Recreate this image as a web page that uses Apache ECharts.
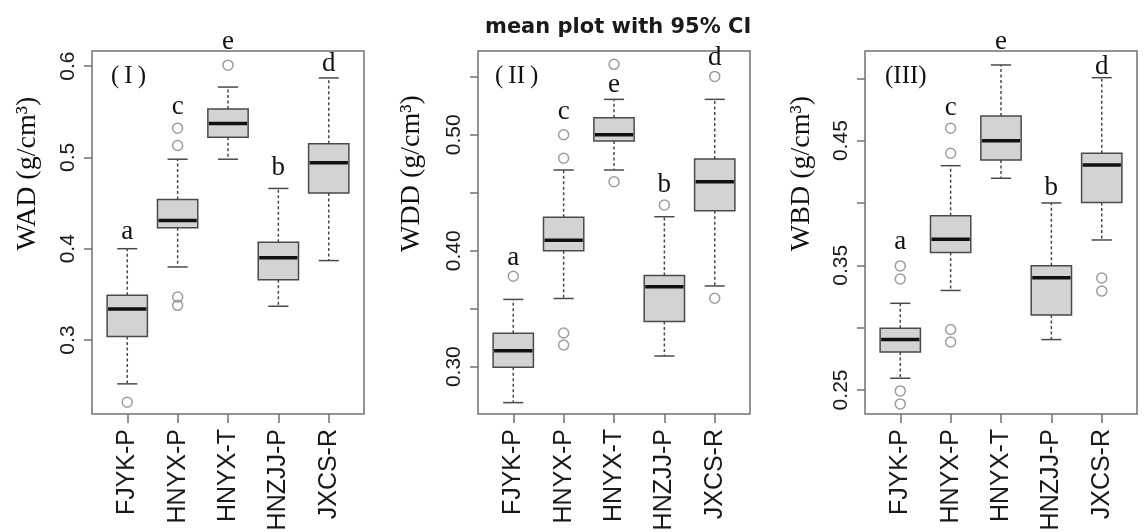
<!DOCTYPE html>
<html><head><meta charset="utf-8">
<script src="https://cdn.jsdelivr.net/npm/echarts@6/dist/echarts.min.js"></script>
<style>html,body{margin:0;padding:0;background:#fff}#c{width:1144px;height:532px}</style>
</head><body><div id="c"></div>
<script>
const categories = ['FJYK-P', 'HNYX-P', 'HNYX-T', 'HNZJJ-P', 'JXCS-R'];

// box stats per category: [lower whisker, Q1, median, Q3, upper whisker]
const wadBoxes = [
  [0.252, 0.304, 0.334, 0.349, 0.400],
  [0.380, 0.423, 0.431, 0.454, 0.498],
  [0.498, 0.522, 0.537, 0.553, 0.577],
  [0.337, 0.366, 0.390, 0.407, 0.466],
  [0.387, 0.461, 0.494, 0.515, 0.587]
];
const wadOutliers = [[0, 0.232], [1, 0.513], [1, 0.532], [1, 0.347], [1, 0.338], [2, 0.601]];
const wadLetters = ['a', 'c', 'e', 'b', 'd'];
const wadLetterY = [0.4095, 0.5464, 0.6175, 0.4789, 0.5928];
const wadTicks = [0.3, 0.4, 0.5, 0.6];
const wadTickLabels = [0.3, 0.4, 0.5, 0.6];

const wddBoxes = [
  [0.269, 0.2995, 0.3138, 0.3288, 0.358],
  [0.3588, 0.400, 0.409, 0.4288, 0.4696],
  [0.4696, 0.4946, 0.500, 0.5147, 0.5305],
  [0.3092, 0.339, 0.369, 0.3787, 0.4293],
  [0.3696, 0.4345, 0.4595, 0.479, 0.5305]
];
const wddOutliers = [[0, 0.378], [1, 0.500], [1, 0.4797], [1, 0.329], [1, 0.3187],
  [2, 0.5607], [2, 0.4595], [3, 0.4394], [4, 0.5503], [4, 0.359]];
const wddLetters = ['a', 'c', 'e', 'b', 'd'];
const wddLetterY = [0.3862, 0.5120, 0.5357, 0.4495, 0.5586];
const wddTicks = [0.30, 0.35, 0.40, 0.45, 0.50, 0.55];
const wddTickLabels = [0.30, 0.40, 0.50];

const wbdBoxes = [
  [0.2594, 0.2805, 0.2904, 0.2995, 0.3195],
  [0.3298, 0.3602, 0.3709, 0.3898, 0.4299],
  [0.4198, 0.4345, 0.450, 0.4698, 0.5107],
  [0.2904, 0.3101, 0.340, 0.3497, 0.400],
  [0.3703, 0.4003, 0.4305, 0.4399, 0.5005]
];
const wbdOutliers = [[0, 0.3495], [0, 0.339], [0, 0.2492], [0, 0.2388],
  [1, 0.4599], [1, 0.4399], [1, 0.2985], [1, 0.2885], [4, 0.3398], [4, 0.3293]];
const wbdLetters = ['a', 'c', 'e', 'b', 'd'];
const wbdLetterY = [0.3623, 0.4692, 0.5227, 0.405, 0.5025];
const wbdTicks = [0.25, 0.30, 0.35, 0.40, 0.45, 0.50];
const wbdTickLabels = [0.25, 0.35, 0.45];

const panelNames = ['(\u2009I\u2009)', '(\u2009II\u2009)', '(III)'];
const axisNames = ['WAD (g/cm\u00b3)', 'WDD (g/cm\u00b3)', 'WBD (g/cm\u00b3)'];
const mainTitle = 'mean plot with 95% CI';

const panels = [
  {boxes: wadBoxes, outliers: wadOutliers, letters: wadLetters, letterY: wadLetterY,
   ticks: wadTicks, labels: wadTickLabels, dec: 1, min: 0.219, max: 0.6165,
   left: 92, nameGap: 50, labelLeft: 106},
  {boxes: wddBoxes, outliers: wddOutliers, letters: wddLetters, letterY: wddLetterY,
   ticks: wddTicks, labels: wddTickLabels, dec: 2, min: 0.2592, max: 0.5722,
   left: 478, nameGap: 52, labelLeft: 490},
  {boxes: wbdBoxes, outliers: wbdOutliers, letters: wbdLetters, letterY: wbdLetterY,
   ticks: wbdTicks, labels: wbdTickLabels, dec: 2, min: 0.2307, max: 0.5219,
   left: 865, nameGap: 49, labelLeft: 880}
];

const FRAME_W = 272, FRAME_TOP = 51, FRAME_H = 363;
const PAD = FRAME_W * 0.2 / 5.4;
const GRAY = '#727272';

function renderBox(params, api) {
  const x = api.value(0);
  const lo = api.coord([x, api.value(1)]);
  const q1 = api.coord([x, api.value(2)]);
  const med = api.coord([x, api.value(3)]);
  const q3 = api.coord([x, api.value(4)]);
  const hi = api.coord([x, api.value(5)]);
  const band = api.size([1, 0])[0];
  const bw = band * 0.8, cw = bw * 0.5, cx = lo[0];
  const dash = {stroke: '#4a4a4a', lineWidth: 1.5, lineDash: [3, 2.5]};
  const solid = {stroke: '#4a4a4a', lineWidth: 1.5};
  return {type: 'group', children: [
    {type: 'line', shape: {x1: cx, y1: q3[1], x2: cx, y2: hi[1]}, style: dash},
    {type: 'line', shape: {x1: cx, y1: q1[1], x2: cx, y2: lo[1]}, style: dash},
    {type: 'line', shape: {x1: cx - cw / 2, y1: hi[1], x2: cx + cw / 2, y2: hi[1]}, style: solid},
    {type: 'line', shape: {x1: cx - cw / 2, y1: lo[1], x2: cx + cw / 2, y2: lo[1]}, style: solid},
    {type: 'rect', shape: {x: cx - bw / 2, y: q3[1], width: bw, height: q1[1] - q3[1]},
     style: {fill: '#d3d3d3', stroke: '#4a4a4a', lineWidth: 1.5}},
    {type: 'line', shape: {x1: cx - bw / 2 + 1, y1: med[1], x2: cx + bw / 2 - 1, y2: med[1]},
     style: {stroke: '#111', lineWidth: 3.5}}
  ]};
}

const grid = [], xAxis = [], yAxis = [], series = [];
const title = [{text: mainTitle, left: 480, top: 12,
  textStyle: {fontFamily: 'DejaVu Sans', fontWeight: 'bold', fontSize: 21, color: '#1a1a1a'}}];

panels.forEach((p, k) => {
  const fi = 2 * k, di = 2 * k + 1;
  grid.push({left: p.left, top: FRAME_TOP, width: FRAME_W, height: FRAME_H, show: true,
    borderColor: GRAY, borderWidth: 1.5, backgroundColor: 'transparent', outerBoundsMode: 'none'});
  grid.push({left: p.left + PAD, top: FRAME_TOP, width: FRAME_W - 2 * PAD, height: FRAME_H,
    outerBoundsMode: 'none'});
  xAxis.push({gridIndex: fi, type: 'value', show: false});
  yAxis.push({gridIndex: fi, type: 'value', show: false});
  xAxis.push({gridIndex: di, type: 'category', data: categories,
    axisLine: {show: false},
    axisTick: {show: true, alignWithLabel: true, interval: 0, length: 9, lineStyle: {color: GRAY, width: 1.5}},
    axisLabel: {interval: 0, rotate: 90, margin: 15, fontSize: 25, fontFamily: 'Liberation Sans', color: '#1a1a1a'},
    splitLine: {show: false}});
  yAxis.push({gridIndex: di, type: 'value', min: p.min, max: p.max, offset: PAD,
    axisLine: {show: false},
    axisTick: {show: true, length: 8, customValues: p.ticks, lineStyle: {color: GRAY, width: 1.5}},
    axisLabel: {customValues: p.labels, rotate: 90, margin: 13, fontSize: 21,
      fontFamily: 'Liberation Sans', color: '#1a1a1a', formatter: v => Number(v).toFixed(p.dec)},
    splitLine: {show: false},
    name: axisNames[k], nameLocation: 'middle', nameGap: p.nameGap,
    nameTextStyle: {fontFamily: 'Liberation Serif', fontSize: 28, color: '#111', padding: [0, 0, 0, 118]}});
  series.push({type: 'custom', xAxisIndex: di, yAxisIndex: di, renderItem: renderBox,
    encode: {x: 0, y: [1, 2, 3, 4, 5]},
    data: p.boxes.map((b, i) => [i].concat(b)), silent: true, z: 2});
  series.push({type: 'scatter', xAxisIndex: di, yAxisIndex: di, symbol: 'circle', symbolSize: 10,
    itemStyle: {color: 'transparent', borderColor: '#858585', borderWidth: 1.5},
    data: p.outliers, silent: true, z: 3});
  series.push({type: 'custom', xAxisIndex: di, yAxisIndex: di, silent: true, z: 4,
    encode: {x: 0, y: 1},
    data: p.letterY.map((v, i) => [i, v]),
    renderItem: (params, api) => {
      const pt = api.coord([api.value(0), api.value(1)]);
      return {type: 'text', x: pt[0], y: pt[1] + 5,
        style: {text: p.letters[params.dataIndex], fill: '#111', font: '27px "Liberation Serif"',
          textAlign: 'center', textVerticalAlign: 'bottom', align: 'center', verticalAlign: 'bottom'}};
    }});
  title.push({text: panelNames[k], left: p.labelLeft, top: 59,
    textStyle: {fontFamily: 'Liberation Serif', fontWeight: 'normal', fontSize: 25, color: '#111'}});
});

const chart = echarts.init(document.getElementById('c'), null, {renderer: 'canvas'});
chart.setOption({animation: false, backgroundColor: '#fff', title, grid, xAxis, yAxis, series});
</script>
</body></html>
